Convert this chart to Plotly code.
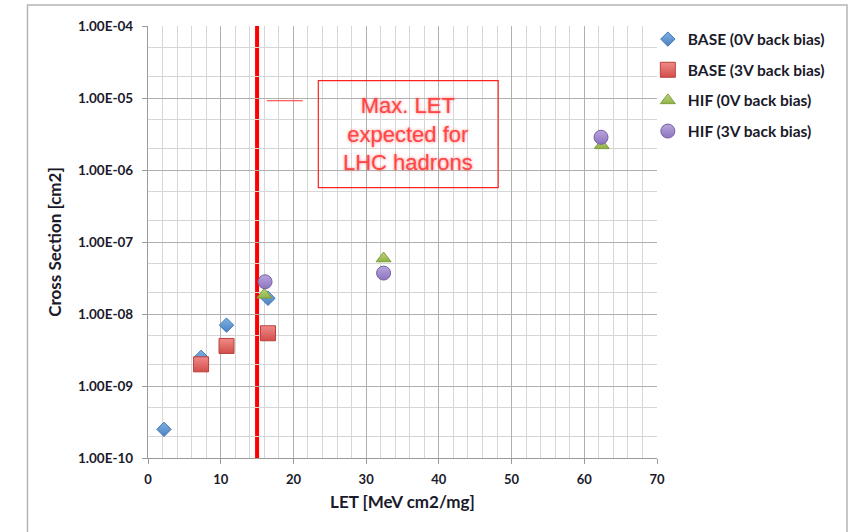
import plotly.graph_objects as go

# ---- data ----
base0_let = [2.2, 7.3, 10.8, 16.5]
base0_xs = [2.5e-10, 2.5e-9, 7.0e-9, 1.65e-8]
base3_let = [7.3, 10.8, 16.5]
base3_xs = [2.0e-9, 3.6e-9, 5.4e-9]
hif0_let = [16.0, 32.4, 62.4]
hif0_xs = [1.85e-8, 5.9e-8, 2.2e-6]
hif3_let = [16.1, 32.4, 62.3]
hif3_xs = [2.8e-8, 3.7e-8, 2.85e-6]

names = ["BASE (0V back bias)", "BASE (3V back bias)", "HIF (0V back bias)", "HIF (3V back bias)"]
max_let = 15
ytick_vals = [1e-10, 1e-9, 1e-8, 1e-7, 1e-6, 1e-5, 1e-4]
ytick_text = ["1.00E-10", "1.00E-09", "1.00E-08", "1.00E-07", "1.00E-06", "1.00E-05", "1.00E-04"]
xtick_vals = [0, 10, 20, 30, 40, 50, 60, 70]
annot_text = "Max. LET<br>expected for<br>LHC hadrons"

FONT = "Lato"
TXT = "#1a1a2a"

fig = go.Figure()
styles = [
    (base0_let, base0_xs, "diamond", 11, "#7fb2e3", "#4a80c2", "#3d74b5"),
    (base3_let, base3_xs, "square", 15, "#f08a88", "#d24e4b", "#b8403e"),
    (hif0_let, hif0_xs, "triangle-up", 13, "#bcd77e", "#91b247", "#7e9e3c"),
    (hif3_let, hif3_xs, "circle", 14, "#b9a6dd", "#8c74bd", "#7760a6"),
]
for i, (xs, ys, sym, sz, col, gcol, lcol) in enumerate(styles):
    fig.add_trace(go.Scatter(
        x=xs, y=ys, mode="markers", name=names[i], legendgroup=str(i),
        marker=dict(symbol=sym, size=sz, color=col, line=dict(color=lcol, width=1),
                    gradient=dict(type="vertical", color=gcol)),
    ))

# red vertical line at max LET
fig.add_shape(type="line", xref="x", yref="paper", x0=max_let, x1=max_let, y0=0, y1=1,
              line=dict(color="#ff0000", width=4), layer="between")
# annotation box
fig.add_shape(type="rect", xref="paper", yref="paper", x0=0.3346, x1=0.688, y0=0.6257, y1=0.8734,
              line=dict(color="#ff2020", width=1.2), fillcolor="rgba(255,255,255,0)")
fig.add_shape(type="line", xref="paper", yref="paper", x0=0.2332, x1=0.3039, y0=0.827, y1=0.827,
              line=dict(color="#ff3030", width=1.2))
fig.add_annotation(xref="paper", yref="paper", x=0.511, y=0.75, xanchor="center", yanchor="middle",
                   text=annot_text, showarrow=False,
                   font=dict(family="Liberation Sans", size=22, color="#ff4545",
                             shadow="0px 0px 3px rgba(255,70,70,0.7)"),
                   align="center")
# outer frame
fig.add_shape(type="rect", xref="paper", yref="paper",
              x0=(27.5 - 148) / 509, x1=(847 - 148) / 509,
              y0=-0.3, y1=1 + (26 - 5) / 432,
              line=dict(color="#b5b5b5", width=1.5), layer="below")

fig.update_layout(
    width=856, height=532,
    margin=dict(l=148, r=199, t=26, b=74),
    paper_bgcolor="white", plot_bgcolor="white",
    font=dict(family=FONT, color=TXT),
    showlegend=True,
    legend=dict(x=0.982, y=1.008, xanchor="left", yanchor="top", bgcolor="rgba(0,0,0,0)",
                font=dict(family=FONT, size=15.5, color=TXT, weight="bold"),
                tracegroupgap=7.5, itemwidth=30),
    xaxis=dict(range=[0, 70], tickvals=xtick_vals, showgrid=True, gridcolor="#b0b0b0", gridwidth=1.3,
               minor=dict(dtick=2, showgrid=True, gridcolor="#d6d6d6", gridwidth=1),
               showline=True, linecolor="#9a9a9a", linewidth=1.3, ticks="outside", ticklen=5,
               tickcolor="#9a9a9a", zeroline=False, ticklabelstandoff=4,
               tickfont=dict(family=FONT, size=13, color=TXT, weight="bold"),
               title=dict(text="LET [MeV cm2/mg]", font=dict(family=FONT, size=17, color=TXT, weight="bold"),
                          standoff=10)),
    yaxis=dict(type="log", range=[-10, -4], tickvals=ytick_vals, ticktext=ytick_text,
               showgrid=True, gridcolor="#b0b0b0", gridwidth=1.3,
               minor=dict(showgrid=True, gridcolor="#d6d6d6", gridwidth=1),
               showline=True, linecolor="#9a9a9a", linewidth=1.3, ticks="outside", ticklen=5,
               tickcolor="#9a9a9a", zeroline=False, ticklabelstandoff=6,
               tickfont=dict(family=FONT, size=13.5, color=TXT, weight="bold"),
               title=dict(text="Cross Section [cm2]", font=dict(family=FONT, size=17, color=TXT, weight="bold"),
                          standoff=12)),
)
fig.write_html("out.html", config={"displayModeBar": False},
               post_script="document.body.style.margin='0';document.body.style.overflow='hidden';")
